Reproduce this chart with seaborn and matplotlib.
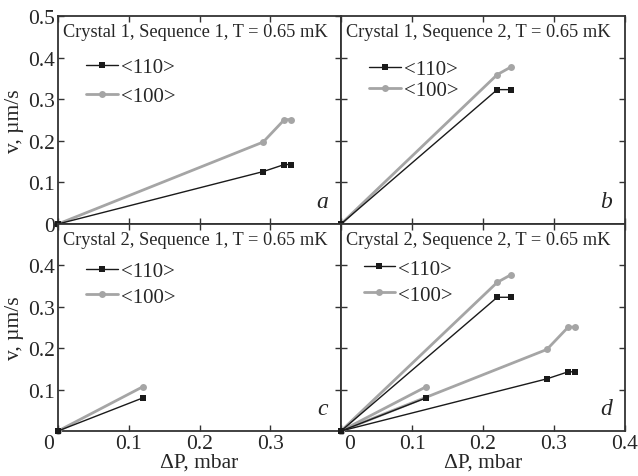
import numpy as np
import pandas as pd
import matplotlib
matplotlib.use("Agg")
import matplotlib.pyplot as plt
import matplotlib.transforms as mtransforms
from matplotlib.lines import Line2D
import seaborn as sns

# Data (dP in mbar, v in um/s)
a_dp_110 = [0.0, 0.29, 0.32, 0.33]
a_v_110 = [0.0, 0.126, 0.143, 0.143]
a_dp_100 = [0.0, 0.29, 0.32, 0.33]
a_v_100 = [0.0, 0.197, 0.251, 0.251]

b_dp_110 = [0.0, 0.22, 0.24]
b_v_110 = [0.0, 0.323, 0.323]
b_dp_100 = [0.0, 0.22, 0.24]
b_v_100 = [0.0, 0.359, 0.378]

c_dp_110 = [0.0, 0.12]
c_v_110 = [0.0, 0.080]
c_dp_100 = [0.0, 0.12]
c_v_100 = [0.0, 0.107]

titles = ["Crystal 1, Sequence 1, T = 0.65 mK",
          "Crystal 1, Sequence 2, T = 0.65 mK",
          "Crystal 2, Sequence 1, T = 0.65 mK",
          "Crystal 2, Sequence 2, T = 0.65 mK"]
letters = ["a", "b", "c", "d"]

BLACK = "#1a1a1a"
GRAY = "#a5a5a5"
SPINE = "#333333"

sns.set_style("ticks")
plt.rcParams['font.family'] = ['Liberation Serif', 'DejaVu Serif']

fig = plt.figure(figsize=(6.38, 4.77), dpi=100)
W, H = 638, 477
x0, xm, x1 = 58, 341, 625
y0, ym, y1 = 17, 225, 432

def make_ax(l, r, t, b):
    return fig.add_axes([l / W, 1 - b / H, (r - l) / W, (b - t) / H])

ax_a = make_ax(x0, xm, y0, ym)
ax_b = make_ax(xm, x1, y0, ym)
ax_c = make_ax(x0, xm, ym, y1)
ax_d = make_ax(xm, x1, ym, y1)
axes = [ax_a, ax_b, ax_c, ax_d]

panel_series = [
    [(a_dp_110, a_v_110, a_dp_100, a_v_100)],
    [(b_dp_110, b_v_110, b_dp_100, b_v_100)],
    [(c_dp_110, c_v_110, c_dp_100, c_v_100)],
    [(a_dp_110, a_v_110, a_dp_100, a_v_100),
     (b_dp_110, b_v_110, b_dp_100, b_v_100),
     (c_dp_110, c_v_110, c_dp_100, c_v_100)],
]

for ax, series in zip(axes, panel_series):
    for dp110, v110, dp100, v100 in series:
        df100 = pd.DataFrame({"dp": dp100, "v": v100})
        df110 = pd.DataFrame({"dp": dp110, "v": v110})
        sns.lineplot(data=df100, x="dp", y="v", ax=ax, sort=False, color=GRAY,
                     lw=2.0, marker="o", markersize=5, markeredgewidth=0,
                     clip_on=False, zorder=3)
        sns.lineplot(data=df110, x="dp", y="v", ax=ax, sort=False, color=BLACK,
                     lw=1.0, marker="s", markersize=5, markeredgewidth=0,
                     clip_on=False, zorder=4)

for i, ax in enumerate(axes):
    ax.set_xlim(0, 0.4)
    ax.set_ylim(0, 0.5)
    ax.set_xlabel("")
    ax.set_ylabel("")
    for s in ax.spines.values():
        s.set_visible(True)
        s.set_color(SPINE)
        s.set_linewidth(1.3)
    ax.tick_params(direction="in", length=4, width=1.0, color=SPINE,
                   top=True, right=True, labelsize=15.5, pad=2)
    ax.set_xticks([0.0, 0.1, 0.2, 0.3, 0.4])
    ax.text(0.018, 0.965, titles[i], transform=ax.transAxes, ha="left",
            va="top", fontsize=13.2)
    ax.text(0.955, 0.06, letters[i], transform=ax.transAxes, ha="right",
            va="bottom", fontsize=17, style="italic")

# tick labels
ax_a.set_yticks([0.0, 0.1, 0.2, 0.3, 0.4, 0.5])
ax_a.set_yticklabels(["0", "0.1", "0.2", "0.3", "0.4", "0.5"])
ax_a.tick_params(labelbottom=False)
ax_b.set_yticks([0.1, 0.2, 0.3, 0.4])
ax_b.tick_params(labelleft=False, labelbottom=False)
ax_c.set_yticks([0.1, 0.2, 0.3, 0.4])
ax_c.set_yticklabels(["0.1", "0.2", "0.3", "0.4"])
ax_c.set_xticklabels(["0", "0.1", "0.2", "0.3", ""])
ax_d.set_yticks([0.1, 0.2, 0.3, 0.4])
ax_d.tick_params(labelleft=False)
ax_d.set_xticklabels(["0", "0.1", "0.2", "0.3", "0.4"])

# nudge the "0" labels like the original
for ax, dx in [(ax_c, -9), (ax_d, 9)]:
    lab = ax.get_xticklabels()[0]
    lab.set_transform(lab.get_transform() +
                      mtransforms.ScaledTranslation(dx / 100, 0, fig.dpi_scale_trans))

for ax in [ax_a, ax_c]:
    ax.set_ylabel("v, \u00b5m/s", fontsize=15.5, labelpad=3)
for ax in [ax_c, ax_d]:
    ax.set_xlabel("\u0394P, mbar", fontsize=15.5, labelpad=0)

handles = [Line2D([], [], color=BLACK, lw=1.0, marker="s", markersize=5, markeredgewidth=0),
           Line2D([], [], color=GRAY, lw=2.0, marker="o", markersize=5, markeredgewidth=0)]
labels = ["<110>", "<100>"]
leg_pos = [(0.1, 0.8, 0.45), (0.1, 0.79, 0.05), (0.1, 0.82, 0.3), (0.08, 0.83, 0.3)]
for ax, (lx, ly, sp) in zip(axes, leg_pos):
    ax.legend(handles, labels, loc="upper left", bbox_to_anchor=(lx, ly),
              frameon=False, fontsize=15, handlelength=1.5, handletextpad=0.15,
              labelspacing=sp, borderpad=0, borderaxespad=0, numpoints=1)

fig.savefig("out.png", dpi=100)
